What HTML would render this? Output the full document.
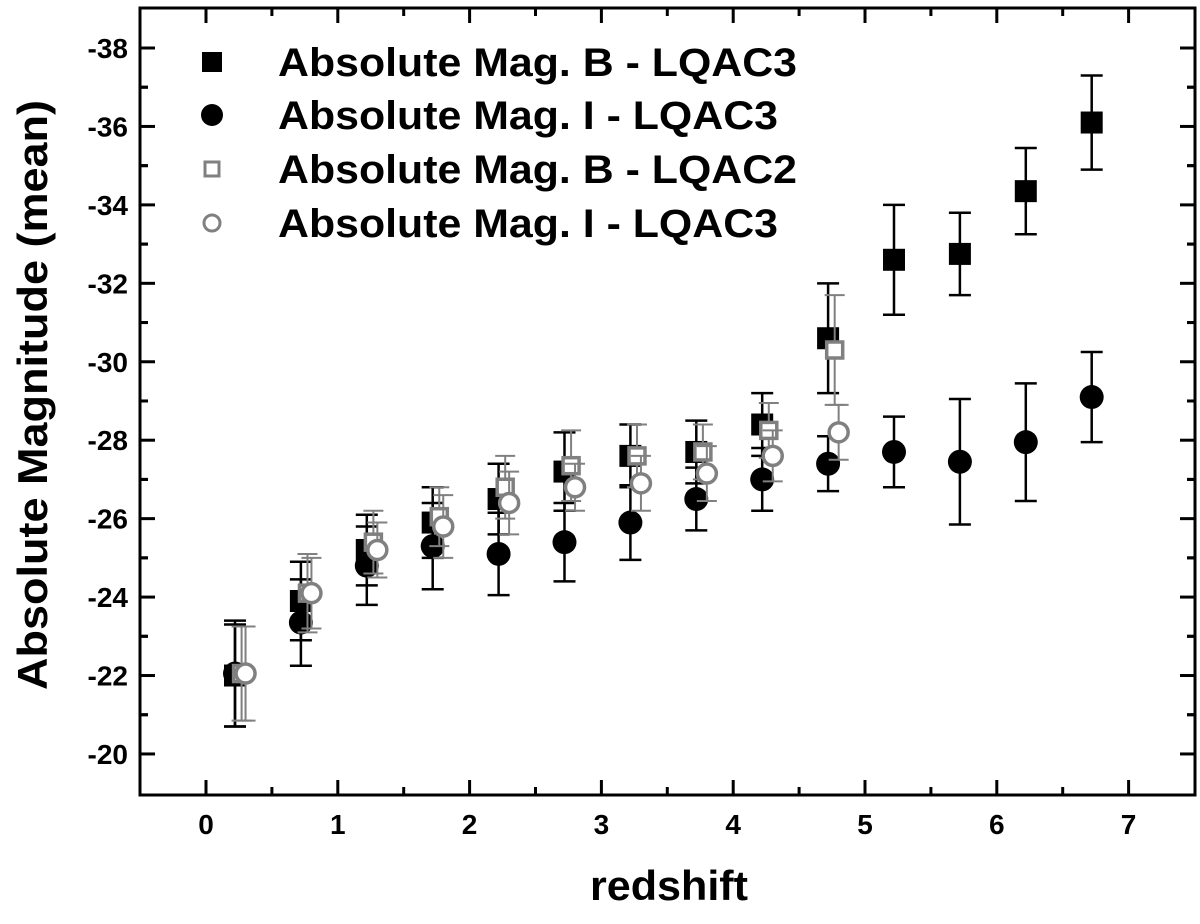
<!DOCTYPE html>
<html><head><meta charset="utf-8"><style>
body{margin:0;background:#fff;}
svg text{font-family:"Liberation Sans",Arial,sans-serif;font-weight:bold;}
</style></head><body>
<svg id="chart" width="1200" height="919" xmlns="http://www.w3.org/2000/svg">
<g id="plot"></g>
</svg>
<script>
const xTicks=[0,1,2,3,4,5,6,7];
const yTicks=[-38,-36,-34,-32,-30,-28,-26,-24,-22,-20];
const zA=[0.22,0.72,1.22,1.72,2.22,2.72,3.22,3.72,4.22,4.72,5.22,5.72,6.22,6.72];
const bMag3=[-22.0,-23.9,-25.2,-25.9,-26.5,-27.2,-27.6,-27.7,-28.4,-30.6,-32.6,-32.75,-34.35,-36.1];
const bErr3=[1.3,1.0,0.9,0.9,0.9,1.0,0.8,0.8,0.8,1.4,1.4,1.05,1.1,1.2];
const iMag3=[-22.05,-23.35,-24.8,-25.3,-25.1,-25.4,-25.9,-26.5,-27.0,-27.4,-27.7,-27.45,-27.95,-29.1];
const iErr3=[1.35,1.1,1.0,1.1,1.05,1.0,0.95,0.8,0.8,0.7,0.9,1.6,1.5,1.15];
const zB=[0.27,0.77,1.27,1.77,2.27,2.77,3.27,3.77,4.27,4.77];
const bMag2=[-22.05,-24.1,-25.4,-26.05,-26.8,-27.35,-27.6,-27.7,-28.25,-30.3];
const bErr2=[1.2,1.0,0.8,0.75,0.8,0.9,0.8,0.7,0.7,1.4];
const zC=[0.3,0.8,1.3,1.8,2.3,2.8,3.3,3.8,4.3,4.8];
const iMagC=[-22.05,-24.1,-25.2,-25.8,-26.4,-26.8,-26.9,-27.15,-27.6,-28.2];
const iErrC=[1.2,0.9,0.7,0.8,0.8,0.6,0.7,0.7,0.65,0.7];
const legendLabels=["Absolute Mag. B - LQAC3","Absolute Mag. I - LQAC3","Absolute Mag. B - LQAC2","Absolute Mag. I - LQAC3"];

const L=140,R=1195,T=8,B=795;
const X=v=>206+v*131.8;
const Y=v=>48+(v+38)*39.22;
const NS="http://www.w3.org/2000/svg";
const g=document.getElementById('plot');
function mk(tag,attrs,parent){const e=document.createElementNS(NS,tag);for(const k in attrs)e.setAttribute(k,attrs[k]);(parent||g).appendChild(e);return e;}

let fr=mk('rect',{x:L,y:T,width:R-L,height:B-T,fill:'none',stroke:'#000','stroke-width':3});



xTicks.forEach((v,i)=>{
  const x=X(v);
  let t=mk('line',{x1:x,y1:B,x2:x,y2:B-15,stroke:'#000','stroke-width':3});
  
  
  mk('line',{x1:x,y1:T,x2:x,y2:T+15,stroke:'#000','stroke-width':3});
  let lb=mk('text',{x:x,y:B+39,'text-anchor':'middle','font-size':28});
  lb.textContent=v;
  
  
  const xm=X(v+0.5);
  if(xm<R-5){mk('line',{x1:xm,y1:B,x2:xm,y2:B-8,stroke:'#000','stroke-width':3});mk('line',{x1:xm,y1:T,x2:xm,y2:T+8,stroke:'#000','stroke-width':3});}
  const xn=X(v-0.5);
  if(xn>L+5&&i===0){mk('line',{x1:xn,y1:B,x2:xn,y2:B-8,stroke:'#000','stroke-width':3});mk('line',{x1:xn,y1:T,x2:xn,y2:T+8,stroke:'#000','stroke-width':3});}
});
yTicks.forEach(v=>{
  const y=Y(v);
  let t=mk('line',{x1:L,y1:y,x2:L+15,y2:y,stroke:'#000','stroke-width':3});
  
  
  mk('line',{x1:R,y1:y,x2:R-15,y2:y,stroke:'#000','stroke-width':3});
  let lb=mk('text',{x:L-12,y:y+10,'text-anchor':'end','font-size':28});
  lb.textContent=v;
  
  
  [v+1,v-1].forEach(m=>{const ym=Y(m);if(ym>T+5&&ym<B-5){mk('line',{x1:L,y1:ym,x2:L+8,y2:ym,stroke:'#000','stroke-width':3});mk('line',{x1:R,y1:ym,x2:R-8,y2:ym,stroke:'#000','stroke-width':3});}});
});
let xt=mk('text',{x:669,y:900,'text-anchor':'middle','font-size':42,textLength:158,lengthAdjust:'spacingAndGlyphs'});
xt.textContent='redshift';


let yt=mk('text',{x:0,y:0,'text-anchor':'middle','font-size':42,textLength:590,lengthAdjust:'spacingAndGlyphs',transform:'translate(47,395) rotate(-90)'});
yt.textContent='Absolute Magnitude (mean)';



function errbar(x,y,e,col,w,cap){
  mk('line',{x1:x,y1:Y(y-e),x2:x,y2:Y(y+e),stroke:col,'stroke-width':w});
  mk('line',{x1:x-cap,y1:Y(y-e),x2:x+cap,y2:Y(y-e),stroke:col,'stroke-width':w});
  mk('line',{x1:x-cap,y1:Y(y+e),x2:x+cap,y2:Y(y+e),stroke:col,'stroke-width':w});
}
function marker(type,x,y,name){
  let m;
  if(type==='bs')m=mk('rect',{x:x-11,y:y-11,width:22,height:22,fill:'#000'});
  if(type==='bc')m=mk('circle',{cx:x,cy:y,r:12,fill:'#000'});
  if(type==='gs')m=mk('rect',{x:x-8,y:y-8,width:16,height:16,fill:'#fff',stroke:'#808080','stroke-width':3.5});
  if(type==='gc')m=mk('circle',{cx:x,cy:y,r:9.5,fill:'#fff',stroke:'#808080','stroke-width':3.5});
  
  
}
zA.forEach((z,i)=>{errbar(X(z),bMag3[i],bErr3[i],'#000',2.5,11);marker('bs',X(z),Y(bMag3[i]),'point-b-lqac3');});
zA.forEach((z,i)=>{errbar(X(z),iMag3[i],iErr3[i],'#000',2.5,11);marker('bc',X(z),Y(iMag3[i]),'point-i-lqac3');});
zB.forEach((z,i)=>{errbar(X(z),bMag2[i],bErr2[i],'#808080',2,10);marker('gs',X(z),Y(bMag2[i]),'point-b-lqac2');});
zC.forEach((z,i)=>{errbar(X(z),iMagC[i],iErrC[i],'#808080',2,10);marker('gc',X(z),Y(iMagC[i]),'point-i-lqac3-open');});

const types=['bs','bc','gs','gc'];
const legY=[62,115,169,223];
types.forEach((t,i)=>{
  let m;
  if(t==='bs')m=mk('rect',{x:202,y:legY[i]-10,width:20,height:20,fill:'#000'});
  else if(t==='bc')m=mk('circle',{cx:212,cy:legY[i],r:11,fill:'#000'});
  else if(t==='gs')m=mk('rect',{x:205,y:legY[i]-7,width:14,height:14,fill:'#fff',stroke:'#808080','stroke-width':3});
  else m=mk('circle',{cx:212,cy:legY[i],r:8,fill:'#fff',stroke:'#808080','stroke-width':3});
  
  
  let tx=mk('text',{x:278,y:legY[i]+14,'font-size':40,textLength:(i===1||i===3)?500:519,lengthAdjust:'spacingAndGlyphs'});
  tx.textContent=legendLabels[i];
  
  
});
</script>
</body></html>
